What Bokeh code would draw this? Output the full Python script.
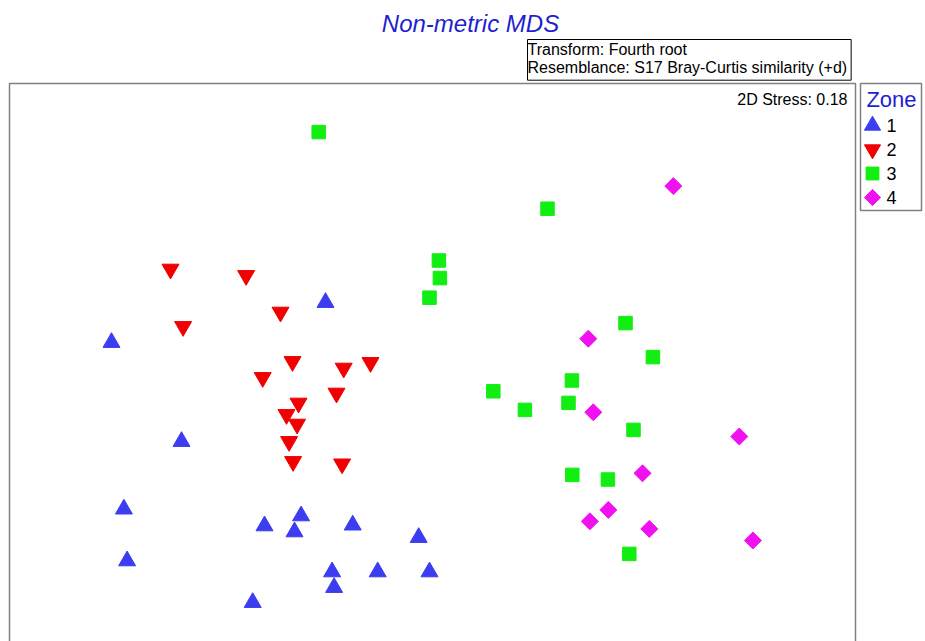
import numpy as np
from bokeh.plotting import figure
from bokeh.models import Label, Range1d, ColumnDataSource, BoxAnnotation
from bokeh.layouts import row
from bokeh.core.properties import value
from bokeh.embed import file_html
from bokeh.resources import INLINE

# ---- data (MDS coordinates) ----
zone1_x = [-0.535, -1.605, -1.255, -1.543, -1.527, -0.84, -0.657, -0.69, -0.399, -0.069, -0.502, -0.492, -0.274, -0.015, -0.899]
zone1_y = [0.29, 0.09, -0.405, -0.743, -1.002, -0.827, -0.777, -0.857, -0.823, -0.885, -1.057, -1.135, -1.057, -1.057, -1.21]

zone2_x = [-1.31, -0.932, -0.76, -1.247, -0.70, -0.444, -0.31, -0.849, -0.48, -0.67, -0.73, -0.677, -0.717, -0.697, -0.452]
zone2_y = [0.457, 0.425, 0.242, 0.17, -0.005, -0.038, -0.01, -0.085, -0.163, -0.213, -0.27, -0.318, -0.405, -0.505, -0.517]

zone3_x = [-0.569, 0.575, 0.032, 0.037, -0.015, 0.965, 1.102, 0.697, 0.304, 0.462, 0.68, 1.005, 0.699, 0.877, 0.984]
zone3_y = [1.142, 0.759, 0.50, 0.412, 0.314, 0.187, 0.017, -0.10, -0.154, -0.247, -0.212, -0.347, -0.572, -0.595, -0.967]

zone4_x = [1.204, 0.779, 0.804, 1.534, 1.05, 0.879, 0.787, 1.084, 1.602]
zone4_y = [0.872, 0.109, -0.259, -0.38, -0.564, -0.747, -0.804, -0.842, -0.90]

zones = ["1", "2", "3", "4"]
zone_colors = ["#3c3cf0", "#f00000", "#12ee12", "#f010f0"]
zone_markers = ["triangle", "inverted_triangle", "square", "square"]
zone_sizes = [17, 17, 13.5, 12]
zone_angles = [0, 0, 0, np.pi / 4]

title_text = "Non-metric MDS"
info_text = "Transform: Fourth root\nResemblance: S17 Bray-Curtis similarity (+d)"
stress_text = "2D Stress: 0.18"
legend_title = "Zone"

FONT = "Liberation Sans"
TITLE_BLUE = "#1f1fd0"
BORDER = "#808080"

# ---- main figure (frame covers the whole canvas; plot box drawn as annotation) ----
p = figure(width=857, height=641, output_backend="svg", toolbar_location=None,
           x_range=Range1d(-2.16, 2.125), y_range=Range1d(-1.405, 1.8),
           x_axis_location=None, y_axis_location=None, frame_align=False,
           min_border_left=0, min_border_right=0, min_border_top=0, min_border_bottom=0)
p.grid.visible = False
p.outline_line_color = None
p.background_fill_color = "white"
p.border_fill_color = "white"

p.add_layout(BoxAnnotation(left=-2.115, right=2.115, top=1.385, bottom=-1.5,
                           fill_alpha=0, fill_color=None, line_color=BORDER,
                           line_alpha=1.0, line_width=1.5))

xs = [zone1_x, zone2_x, zone3_x, zone4_x]
ys = [zone1_y, zone2_y, zone3_y, zone4_y]
for i in range(4):
    src = ColumnDataSource(dict(x=xs[i], y=ys[i]))
    p.scatter("x", "y", source=src, marker=zone_markers[i], size=zone_sizes[i],
              angle=zone_angles[i], fill_color=zone_colors[i], line_color=zone_colors[i])

p.add_layout(Label(x=0.19, y=1.685, text=title_text, text_align="center", text_baseline="middle",
                   text_font=FONT, text_font_style="italic", text_font_size="24px",
                   text_color=TITLE_BLUE))
p.add_layout(Label(x=0.475, y=1.605, text=info_text, text_align="left", text_baseline="top",
                   text_font=FONT, text_font_size="16px", text_color="black",
                   text_line_height=1.1,
                   border_line_color="black", border_line_width=1,
                   background_fill_color="white", padding=(0, 4, 1, 4)))
p.add_layout(Label(x=2.075, y=1.305, text=stress_text, text_align="right", text_baseline="middle",
                   text_font=FONT, text_font_size="16px", text_color="black"))

# ---- legend figure ----
lg = figure(width=68, height=641, output_backend="svg", toolbar_location=None,
            x_range=Range1d(0, 68), y_range=Range1d(641, 0),
            x_axis_location=None, y_axis_location=None, frame_align=False,
            min_border_left=0, min_border_right=0, min_border_top=0, min_border_bottom=0)
lg.grid.visible = False
lg.outline_line_color = None
lg.background_fill_color = "white"
lg.border_fill_color = "white"
lg.add_layout(BoxAnnotation(left=3, right=64, top=83, bottom=210,
                            fill_alpha=0, fill_color=None, line_color=BORDER,
                            line_alpha=1.0, line_width=1.5))

row_y = [125 + 24 * i for i in range(len(zones))]
for i in range(4):
    lg.scatter([15], [row_y[i]], marker=zone_markers[i], size=zone_sizes[i] * 0.95,
               angle=zone_angles[i], fill_color=zone_colors[i], line_color=zone_colors[i])
lg.text(x=[29] * 4, y=row_y, text=zones, text_align="left", text_baseline="middle",
        text_font=value(FONT), text_font_size="18px", text_color="black")
lg.add_layout(Label(x=34, y=99, text=legend_title, text_align="center", text_baseline="middle",
                    text_font=FONT, text_font_size="22px", text_color=TITLE_BLUE))

layout = row(p, lg, spacing=0)
open("out.html", "w").write(file_html(layout, INLINE))
